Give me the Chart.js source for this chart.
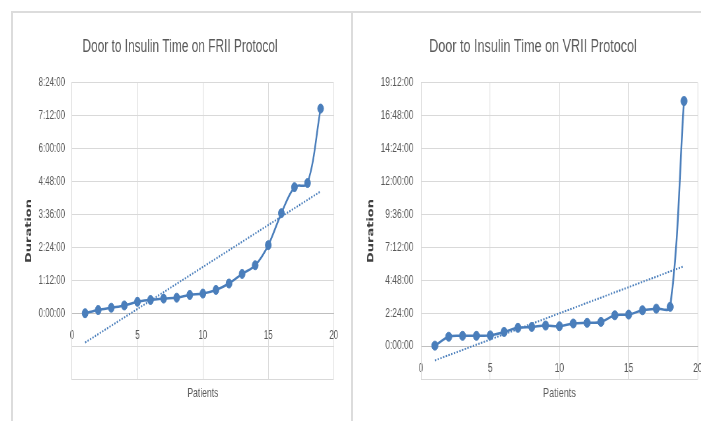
<!DOCTYPE html>
<html>
<head>
<meta charset="utf-8">
<script src="https://cdn.jsdelivr.net/npm/chart.js@4.4.1/dist/chart.umd.min.js"></script>
<style>
  html, body { margin: 0; padding: 0; background: #ffffff; width: 701px; height: 421px; overflow: hidden; }
  #frame { position: absolute; left: 11px; top: 11px; width: 800px; height: 500px;
           border-top: 2px solid #dcdcdc; border-left: 2px solid #dcdcdc; }
  #divider { position: absolute; left: 351px; top: 11px; width: 2px; height: 420px; background: #dcdcdc; }
  canvas { position: absolute; }
</style>
</head>
<body>
<div id="frame"></div>
<div id="divider"></div>
<canvas id="friiChart"></canvas>
<canvas id="vriiChart"></canvas>
<script>
// Patients, in order of increasing door-to-insulin time
const patients = [1, 2, 3, 4, 5, 6, 7, 8, 9, 10, 11, 12, 13, 14, 15, 16, 17, 18, 19];

// Door-to-insulin time per patient, in minutes
const friiMinutes = [0, 7, 12, 17, 25, 29, 32, 34, 40, 43, 51, 65, 86, 105, 149, 219, 276, 285, 448];
const vriiMinutes = [2, 41, 45, 45, 47, 62, 80, 84, 90, 87, 99, 102, 106, 135, 138, 157, 164, 172, 1073];

// Axis ranges (minutes) and tick spacing
const friiAxis = { min: -144, max: 504, step: 72 };
const vriiAxis = { min: -144, max: 1152, step: 144 };
const patientAxis = { min: 0, max: 20, step: 5 };

const friiTitle = 'Door to Insulin Time on FRII Protocol';
const vriiTitle = 'Door to Insulin Time on VRII Protocol';
const xTitle = 'Patients';
const yTitle = 'Duration';

const LINE_BLUE = '#4a7ebb';
const GRID = '#d9d9d9';
const TEXT = '#595959';
const SANS = '"Liberation Sans", Arial, sans-serif';

function hms(minutes) {
  const h = Math.floor(minutes / 60);
  const m = Math.round(minutes - h * 60);
  return h + ':' + String(m).padStart(2, '0') + ':00';
}

// Least-squares straight line through the series
function linearFit(xs, ys) {
  const n = xs.length;
  const mx = xs.reduce((a, b) => a + b, 0) / n;
  const my = ys.reduce((a, b) => a + b, 0) / n;
  let sxy = 0, sxx = 0;
  for (let i = 0; i < n; i++) {
    sxy += (xs[i] - mx) * (ys[i] - my);
    sxx += (xs[i] - mx) * (xs[i] - mx);
  }
  const slope = sxy / sxx;
  const intercept = my - slope * mx;
  return x => intercept + slope * x;
}

function drawPanel(canvasId, panel) {
  const s = panel.hScale;                       // horizontal compression of the panel
  const W = Math.round(panel.titleCenter * 2 / s);
  const H = panel.height;
  const canvas = document.getElementById(canvasId);
  canvas.width = W;
  canvas.height = H;
  canvas.style.left = panel.left + 'px';
  canvas.style.top = panel.top + 'px';
  canvas.style.width = (W * s) + 'px';
  canvas.style.height = H + 'px';

  const plotLeft = panel.plotLeft / s;
  const plotRight = panel.plotRight / s;
  const plotTop = 71, plotBottom = 367;
  const titleMid = 35, xTitleMid = 381;

  const fit = linearFit(patients, panel.minutes);
  const first = patients[0], last = patients[patients.length - 1];

  new Chart(canvas, {
    type: 'line',
    data: {
      datasets: [
        {
          data: [{ x: first, y: fit(first) }, { x: last, y: fit(last) }],
          borderColor: LINE_BLUE,
          borderWidth: 2,
          borderDash: [2, 2],
          pointRadius: 0,
          tension: 0,
          fill: false
        },
        {
          data: patients.map((p, i) => ({ x: p, y: panel.minutes[i] })),
          borderColor: LINE_BLUE,
          backgroundColor: LINE_BLUE,
          borderWidth: 2.5,
          pointRadius: 4.5,
          pointBorderWidth: 1,
          pointBackgroundColor: LINE_BLUE,
          pointBorderColor: LINE_BLUE,
          tension: 0.35,
          fill: false
        }
      ]
    },
    options: {
      responsive: false,
      animation: false,
      devicePixelRatio: 1,
      events: [],
      layout: { padding: 0 },
      plugins: {
        legend: { display: false },
        tooltip: { enabled: false },
        title: {
          display: true,
          text: panel.title,
          color: TEXT,
          font: { family: SANS, size: 18, weight: 'normal', lineHeight: 1.2 },
          padding: { top: titleMid - 10.8, bottom: plotTop - (titleMid - 10.8) - 21.6 }
        }
      },
      scales: {
        x: {
          type: 'linear',
          position: { y: 0 },
          min: patientAxis.min,
          max: patientAxis.max,
          ticks: {
            stepSize: patientAxis.step,
            padding: 15,
            color: TEXT,
            font: { family: SANS, size: 12 }
          },
          grid: { color: GRID, lineWidth: 1, drawTicks: false },
          border: { color: '#bfbfbf', width: 1 }
        },
        x2: {
          type: 'linear',
          axis: 'x',
          position: 'bottom',
          min: patientAxis.min,
          max: patientAxis.max,
          ticks: { display: false },
          grid: { display: false, drawTicks: false },
          border: { display: false },
          title: {
            display: true,
            text: xTitle,
            color: TEXT,
            font: { family: SANS, size: 13, lineHeight: 1.2 },
            padding: { top: (H - plotBottom) - 15.6 - ((H - xTitleMid) - 7.8), bottom: (H - xTitleMid) - 7.8 }
          }
        },
        y: {
          type: 'linear',
          position: 'left',
          min: panel.axis.min,
          max: panel.axis.max,
          ticks: {
            stepSize: panel.axis.step,
            autoSkip: false,
            padding: panel.tickGap / s,
            color: TEXT,
            font: { family: SANS, size: 12 },
            callback: v => (v < 0 ? '' : hms(v))
          },
          grid: {
            drawTicks: false,
            lineWidth: 1,
            color: c => (c.tick && c.tick.value === 0 ? '#bfbfbf' : GRID)
          },
          border: { color: GRID, width: 1 },
          title: {
            display: true,
            text: yTitle,
            color: '#404040',
            font: { family: '"DejaVu Sans", sans-serif', size: 13, weight: 'bold', lineHeight: 1.2 },
            padding: { top: panel.yTitleMid / s - 7.8, bottom: 0 }
          },
          afterFit: scale => { scale.width = plotLeft; }
        },
        yGap: {
          type: 'linear',
          position: 'right',
          min: 0,
          max: 1,
          ticks: { display: false },
          grid: { display: false, drawTicks: false },
          border: { display: false },
          afterFit: scale => { scale.width = W - plotRight; }
        }
      }
    }
  });
}

drawPanel('friiChart', {
  title: friiTitle, minutes: friiMinutes, axis: friiAxis,
  left: 12, top: 12, height: 409, hScale: 0.66,
  titleCenter: 168, plotLeft: 60, plotRight: 325, yTitleMid: 17, tickGap: 7
});

drawPanel('vriiChart', {
  title: vriiTitle, minutes: vriiMinutes, axis: vriiAxis,
  left: 353, top: 12, height: 409, hScale: 0.70,
  titleCenter: 180, plotLeft: 68, plotRight: 346, yTitleMid: 18, tickGap: 7.7
});
</script>
</body>
</html>
